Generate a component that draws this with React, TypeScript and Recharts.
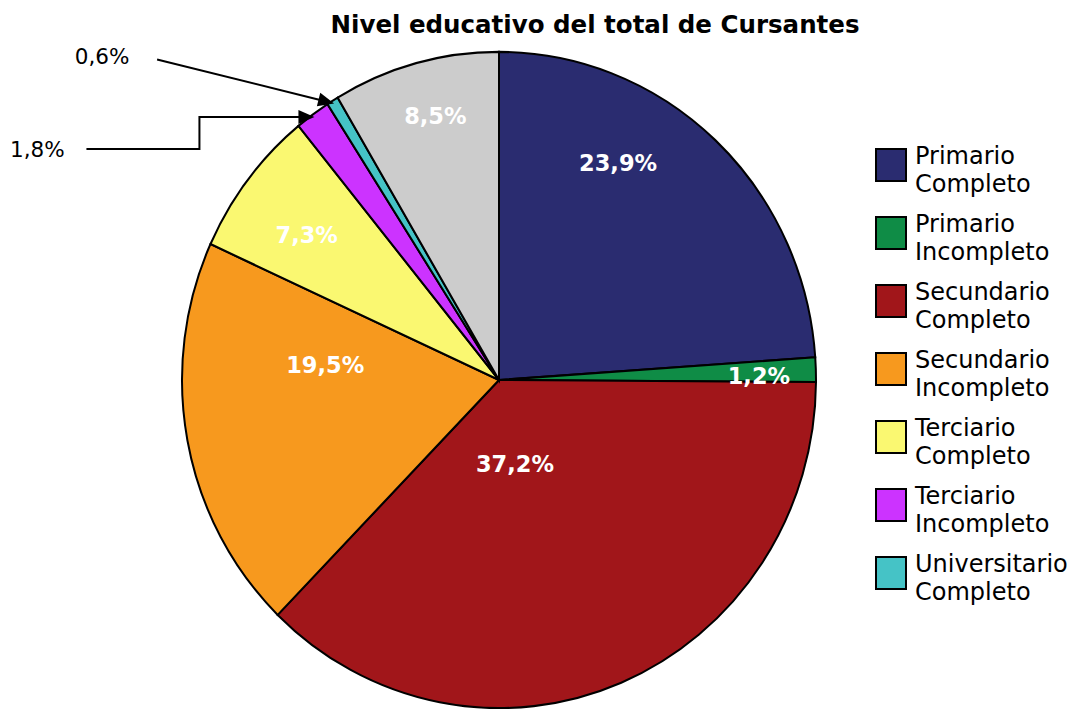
import React from "react";
import { PieChart, Pie, Cell, Legend } from "recharts";

const CATEGORIES = [
  "Primario Completo",
  "Primario Incompleto",
  "Secundario Completo",
  "Secundario Incompleto",
  "Terciario Completo",
  "Terciario Incompleto",
  "Universitario Completo",
  "Otros",
];
const VALUES = [23.9, 1.2, 37.2, 19.5, 7.3, 1.8, 0.6, 8.5];
const COLORS = ["#2a2c70", "#0f8c46", "#a1161a", "#f7991e", "#faf871", "#cc33ff", "#45c3c6", "#cccccc"];
// how many entries the legend shows (the grey slice is left out, as in the original)
const LEGEND_COUNT = 7;

const data = CATEGORIES.map((name, i) => ({ name, value: VALUES[i] }));

const W = 1071;
const H = 709;
const CX = 499;
const CY = 380;
const R = 317;
const SY = 1.035; // the original pie is a little taller than wide

// label placement: radius as part of R, and an angle shift from the slice middle
const LABEL_R = [0.76, 0.82, 0.26, 0.55, 0.75, 1, 1, 0.83];
const LABEL_DA = [13.4, -1, -11.5, -15.3, 1.6, 0, 0, -1.3];

const RAD = Math.PI / 180;
const pt = (r: number, a: number) => ({ x: CX + r * Math.cos(a * RAD), y: CY - r * Math.sin(a * RAD) * SY });
const fmt = (v: number) => v.toFixed(1).replace(".", ",") + "%";

function arrowHead(tx: number, ty: number, fx: number, fy: number) {
  const len = 16;
  const half = 7;
  const d = Math.hypot(tx - fx, ty - fy);
  const ux = (tx - fx) / d;
  const uy = (ty - fy) / d;
  const bx = tx - ux * len;
  const by = ty - uy * len;
  return `${tx},${ty} ${bx - uy * half},${by + ux * half} ${bx + uy * half},${by - ux * half}`;
}

function renderLabel(props: any) {
  const { midAngle, index, value } = props;
  const text = fmt(value);
  if (index === 5 || index === 6) {
    const tip = pt(R - 3, midAngle);
    if (index === 5) {
      const ex = tip.x - 115;
      const ly = tip.y + 32;
      return (
        <g key={`l${index}`}>
          <polyline
            points={`${tip.x - 228},${ly} ${ex},${ly} ${ex},${tip.y} ${tip.x - 10},${tip.y}`}
            fill="none"
            stroke="#000"
            strokeWidth={2}
          />
          <polygon points={arrowHead(tip.x, tip.y, ex, tip.y)} fill="#000" />
          <text x={tip.x - 277} y={ly} textAnchor="middle" dominantBaseline="central" fontSize={21.5} fill="#000">
            {text}
          </text>
        </g>
      );
    }
    const sx = tip.x - 177;
    const sy = tip.y - 44;
    return (
      <g key={`l${index}`}>
        <line x1={sx} y1={sy} x2={tip.x - 8} y2={tip.y - 2} stroke="#000" strokeWidth={2} />
        <polygon points={arrowHead(tip.x, tip.y, sx, sy)} fill="#000" />
        <text x={tip.x - 232} y={tip.y - 47} textAnchor="middle" dominantBaseline="central" fontSize={21.5} fill="#000">
          {text}
        </text>
      </g>
    );
  }
  const p = pt(R * LABEL_R[index], midAngle + LABEL_DA[index]);
  return (
    <text
      key={`l${index}`}
      x={p.x}
      y={p.y}
      textAnchor="middle"
      dominantBaseline="central"
      fontSize={22.5}
      fontWeight="bold"
      fill="#fff"
    >
      {text}
    </text>
  );
}

function LegendBox() {
  return (
    <div style={{ fontFamily: "'DejaVu Sans', sans-serif", fontSize: 24, lineHeight: "28px", color: "#000" }}>
      {CATEGORIES.slice(0, LEGEND_COUNT).map((name, i) => {
        const words = name.split(" ");
        return (
          <div key={name} style={{ display: "flex", alignItems: "flex-start", height: 68 }}>
            <div
              style={{
                width: 28,
                height: 30,
                marginTop: 6,
                marginRight: 8,
                background: COLORS[i],
                border: "2px solid #000",
                boxSizing: "content-box",
                flexShrink: 0,
              }}
            />
            <div style={{ whiteSpace: "nowrap" }}>
              <div>{words[0]}</div>
              <div>{words[1]}</div>
            </div>
          </div>
        );
      })}
    </div>
  );
}

export default function App() {
  return (
    <div style={{ width: W, height: H, position: "relative", background: "#fff", fontFamily: "'DejaVu Sans', sans-serif" }}>
      <style>{`
        body { margin: 0; }
        .recharts-sector { transform: scale(1, ${SY}); transform-origin: ${CX}px ${CY}px; }
      `}</style>
      <div
        style={{
          position: "absolute",
          left: 595,
          top: 10,
          transform: "translateX(-50%)",
          whiteSpace: "nowrap",
          fontFamily: "'DejaVu Sans', sans-serif",
          fontSize: 24.5,
          lineHeight: "30px",
          fontWeight: "bold",
          zIndex: 2,
        }}
      >
        Nivel educativo del total de Cursantes
      </div>
      <PieChart width={W} height={H} margin={{ top: 0, right: 0, bottom: 0, left: 0 }}>
        <Pie
          data={data}
          dataKey="value"
          nameKey="name"
          cx={CX}
          cy={CY}
          outerRadius={R}
          startAngle={90}
          endAngle={-270}
          stroke="#000"
          strokeWidth={2}
          label={renderLabel}
          labelLine={false}
          isAnimationActive={false}
        >
          {data.map((_, i) => (
            <Cell key={i} fill={COLORS[i]} />
          ))}
        </Pie>
        <Legend
          content={() => <LegendBox />}
          wrapperStyle={{ position: "absolute", left: 875, top: 142, width: 196 }}
        />
      </PieChart>
    </div>
  );
}
